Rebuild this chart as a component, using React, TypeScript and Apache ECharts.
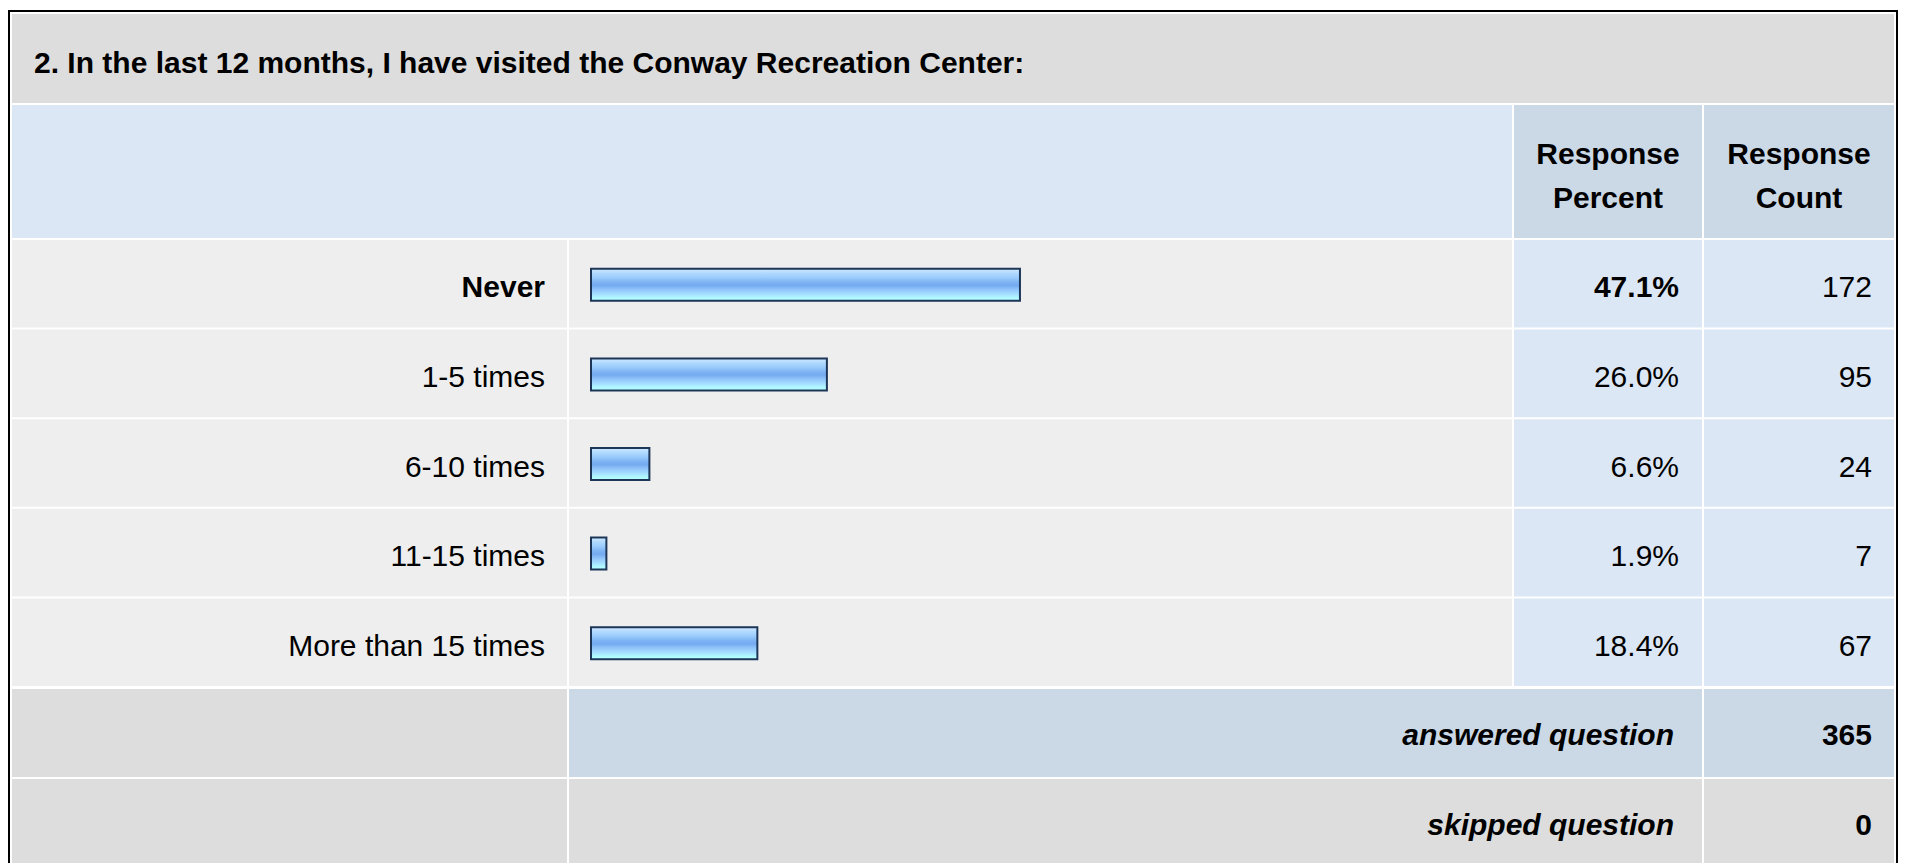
import React, { useEffect, useRef } from "react";
import * as echarts from "echarts";

const title = "2. In the last 12 months, I have visited the Conway Recreation Center:";
const categories = ["Never", "1-5 times", "6-10 times", "11-15 times", "More than 15 times"];
const responsePercent = [47.1, 26.0, 6.6, 1.9, 18.4];
const responseCount = [172, 95, 24, 7, 67];
const columnHeaders = ["Response\nPercent", "Response\nCount"];
const summaryLabels = ["answered question", "skipped question"];
const summaryValues = [365, 0];

const FONT = "'Liberation Sans', Arial, Helvetica, sans-serif";
const FS = 30;

const C_GREY = "#dddddd";
const C_LIGHT = "#eeeeee";
const C_BLUE = "#dce7f5";
const C_BLUE2 = "#cbd8e6";

export default function App() {
  const ref = useRef<HTMLDivElement>(null);
  useEffect(() => {
    if (!ref.current) return;
    const chart = echarts.init(ref.current, undefined, { renderer: "svg" });

    const maxIdx = responsePercent.indexOf(Math.max(...responsePercent));

    const col = [
      [12, 567],
      [569, 1512],
      [1514, 1702],
      [1704, 1894],
    ];
    const gridTop = 240;
    const gridH = 448;
    const n = categories.length;
    const step = gridH / n;

    const rect = (x0: number, x1: number, y0: number, y1: number, fill: string) => ({
      type: "rect",
      shape: { x: x0, y: y0, width: x1 - x0, height: y1 - y0 },
      style: { fill },
      silent: true,
      z: 0,
    });

    const g: any[] = [];
    g.push({
      type: "rect",
      shape: { x: 9, y: 11, width: 1888, height: 900 },
      style: { fill: "#ffffff", stroke: "#000000", lineWidth: 2 },
      silent: true,
      z: 0,
    });
    g.push(rect(12, 1894, 14, 103, C_GREY));
    g.push(rect(col[0][0], col[1][1], 105, 238, C_BLUE));
    g.push(rect(col[2][0], col[2][1], 105, 238, C_BLUE2));
    g.push(rect(col[3][0], col[3][1], 105, 238, C_BLUE2));
    for (let i = 0; i < n; i++) {
      const y0 = gridTop + i * step;
      const y1 = y0 + step - 2;
      g.push(rect(col[0][0], col[0][1], y0, y1, C_LIGHT));
      g.push(rect(col[1][0], col[1][1], y0, y1, C_LIGHT));
      g.push(rect(col[2][0], col[2][1], y0, y1, C_BLUE));
      g.push(rect(col[3][0], col[3][1], y0, y1, C_BLUE));
    }
    const sumTop = gridTop + gridH + 1;
    const sumColors = [C_BLUE2, C_GREY];
    summaryLabels.forEach((lab, i) => {
      const y0 = sumTop + i * 90;
      const y1 = y0 + 88;
      g.push(rect(col[0][0], col[0][1], y0, y1, C_GREY));
      g.push(rect(col[1][0], col[2][1], y0, y1, sumColors[i]));
      g.push(rect(col[3][0], col[3][1], y0, y1, sumColors[i]));
      g.push({
        type: "text",
        x: 1674,
        y: (y0 + y1) / 2 + 1,
        z: 5,
        style: {
          text: lab,
          fontFamily: FONT,
          fontSize: FS,
          fontWeight: "bold",
          fontStyle: "italic",
          fill: "#000",
          align: "right",
          verticalAlign: "middle",
        },
      });
      g.push({
        type: "text",
        x: 1872,
        y: (y0 + y1) / 2 + 1,
        z: 5,
        style: {
          text: String(summaryValues[i]),
          fontFamily: FONT,
          fontSize: FS,
          fontWeight: "bold",
          fill: "#000",
          align: "right",
          verticalAlign: "middle",
        },
      });
    });
    g.push({
      type: "text",
      x: 34,
      y: 62,
      z: 5,
      style: {
        text: title,
        fontFamily: FONT,
        fontSize: 30,
        fontWeight: "bold",
        fill: "#000",
        align: "left",
        verticalAlign: "middle",
      },
    });
    columnHeaders.forEach((h, i) => {
      const c = col[2 + i];
      g.push({
        type: "text",
        x: (c[0] + c[1]) / 2,
        y: 175,
        z: 5,
        style: {
          text: h,
          fontFamily: FONT,
          fontSize: FS,
          fontWeight: "bold",
          fill: "#000",
          align: "center",
          verticalAlign: "middle",
          lineHeight: 44,
        },
      });
    });

    const gridLeft = 590;
    const gridW = 915;
    const gridRight = gridLeft + gridW;

    const richStyles = {
      b: { fontFamily: FONT, fontSize: FS, fontWeight: "bold", color: "#000", padding: [4, 0, 0, 0] },
      n: { fontFamily: FONT, fontSize: FS, fontWeight: "normal", color: "#000", padding: [4, 0, 0, 0] },
    };

    const hiddenAxis = {
      axisLine: { show: false },
      axisTick: { show: false },
      splitLine: { show: false },
    };

    chart.setOption({
      animation: false,
      backgroundColor: "#ffffff",
      grid: { left: gridLeft, top: gridTop, width: gridW, height: gridH, containLabel: false },
      xAxis: {
        type: "value",
        min: 0,
        max: 100,
        show: false,
      },
      yAxis: [
        {
          type: "category",
          data: categories,
          inverse: true,
          position: "left",
          ...hiddenAxis,
          axisLabel: {
            margin: gridLeft - 545,
            formatter: (v: string, i: number) => (i === maxIdx ? `{b|${v}}` : `{n|${v}}`),
            rich: richStyles,
          },
        },
        {
          type: "category",
          data: categories,
          inverse: true,
          position: "right",
          ...hiddenAxis,
          axisLabel: {
            margin: 1679 - gridRight,
            align: "right",
            formatter: (_v: string, i: number) => {
              const s = responsePercent[i].toFixed(1) + "%";
              return i === maxIdx ? `{b|${s}}` : `{n|${s}}`;
            },
            rich: richStyles,
          },
        },
        {
          type: "category",
          data: categories,
          inverse: true,
          position: "right",
          ...hiddenAxis,
          axisLabel: {
            margin: 1872 - gridRight,
            align: "right",
            formatter: (_v: string, i: number) => `{n|${responseCount[i]}}`,
            rich: richStyles,
          },
        },
      ],
      graphic: g,
      series: [
        {
          type: "bar",
          yAxisIndex: 0,
          data: responsePercent,
          barWidth: 34,
          z: 3,
          itemStyle: {
            color: new echarts.graphic.LinearGradient(0, 0, 0, 1, [
              { offset: 0, color: "#d2eaff" },
              { offset: 0.12, color: "#b4dbff" },
              { offset: 0.28, color: "#9acbfc" },
              { offset: 0.42, color: "#7eb3f3" },
              { offset: 0.52, color: "#74aaf0" },
              { offset: 0.64, color: "#8fc3fa" },
              { offset: 0.78, color: "#a4dcff" },
              { offset: 0.9, color: "#b0f8ff" },
              { offset: 1, color: "#b4ffff" },
            ]),
            borderColor: "#1d3658",
            borderWidth: 2,
          },
        },
      ],
    });

    return () => chart.dispose();
  }, []);

  return (
    <div
      ref={ref}
      style={{ position: "absolute", left: 0, top: 0, width: 1909, height: 863 }}
    />
  );
}
